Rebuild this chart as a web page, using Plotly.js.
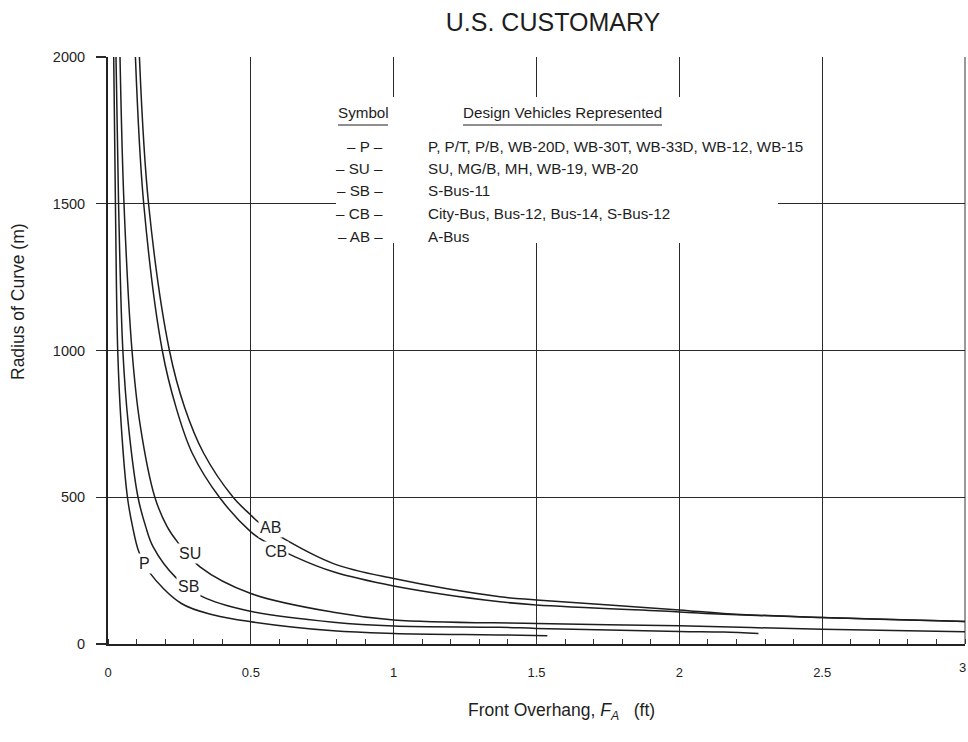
<!DOCTYPE html>
<html>
<head>
<meta charset="utf-8">
<script src="https://cdn.plot.ly/plotly-3.0.1.min.js"></script>
<style>html,body{margin:0;padding:0;background:#fff;}#chart{width:968px;height:742px;}</style>
</head>
<body>
<div id="chart"></div>
<script>
// ---------------- data ----------------
const curveNames = ['P', 'SB', 'SU', 'CB', 'AB'];

const P_F = [0.020, 0.026, 0.034, 0.046, 0.068, 0.086, 0.108, 0.145, 0.257, 0.370, 0.500, 0.789, 1.0, 1.372, 1.538];
const P_R = [2000, 1500, 1000, 750, 500, 400, 314, 244, 138, 99, 76, 45, 36, 31, 28];

const SB_F = [0.028, 0.037, 0.052, 0.071, 0.105, 0.132, 0.158, 0.237, 0.327, 0.490, 0.789, 1.0, 1.372, 1.5, 2.0, 2.155, 2.277];
const SB_R = [2000, 1500, 1000, 750, 500, 400, 331, 227, 163, 113, 74, 61, 57, 53, 43, 41, 36];

const SU_F = [0.042, 0.056, 0.084, 0.112, 0.164, 0.207, 0.243, 0.322, 0.500, 0.789, 1.0, 1.5, 2.0, 2.5, 3.0];
const SU_R = [2000, 1500, 1000, 750, 500, 400, 348, 263, 172, 108, 82, 70, 62, 50, 42];

const CB_F = [0.096, 0.125, 0.190, 0.238, 0.295, 0.390, 0.500, 0.541, 0.655, 0.789, 1.0, 1.372, 1.5, 2.0, 2.155, 2.5, 3.0];
const CB_R = [2000, 1500, 1000, 807, 650, 500, 382, 354, 297, 246, 198, 144, 133, 109, 101, 90, 77];

const AB_F = [0.110, 0.142, 0.215, 0.268, 0.335, 0.438, 0.497, 0.526, 0.608, 0.789, 1.0, 1.372, 1.5, 2.0, 2.155, 2.5, 3.0];
const AB_R = [2000, 1500, 1000, 807, 650, 500, 442, 416, 363, 274, 223, 161, 150, 116, 104, 90, 77];

const xTickVals = [0, 0.5, 1, 1.5, 2, 2.5, 3];
const xTickText = ['0', '0.5', '1', '1.5', '2', '2.5', '3'];
const yTickVals = [0, 500, 1000, 1500, 2000];
const yTickText = ['0', '500', '1000', '1500', '2000'];

const chartTitle = 'U.S. CUSTOMARY';
const xTitle = 'Front Overhang, <i>F<sub>A</sub></i>\u00a0\u00a0\u00a0(ft)';
const yTitle = 'Radius of Curve (m)';

const legendHeadSymbol = 'Symbol';
const legendHeadVehicles = 'Design Vehicles Represented';
const legendSymbols = ['\u2013 P \u2013', '\u2013 SU \u2013', '\u2013 SB \u2013', '\u2013 CB \u2013', '\u2013 AB \u2013'];
const legendVehicles = [
  'P, P/T, P/B, WB-20D, WB-30T, WB-33D, WB-12, WB-15',
  'SU, MG/B, MH, WB-19, WB-20',
  'S-Bus-11',
  'City-Bus, Bus-12, Bus-14, S-Bus-12',
  'A-Bus'
];

// ---------------- layout helpers (pixel -> paper) ----------------
const L = 108, R = 965, T = 57, B = 644;
const px = v => (v - L) / (R - L);
const py = v => (B - v) / (B - T);
const FONT = 'Liberation Sans, Arial, Helvetica, sans-serif';
const INK = '#1e1e1e';

const series = [[P_F, P_R], [SB_F, SB_R], [SU_F, SU_R], [CB_F, CB_R], [AB_F, AB_R]];
const traces = series.map((s, i) => ({
  type: 'scatter', mode: 'lines', name: curveNames[i],
  x: s[0], y: s[1],
  line: {color: INK, width: 1.5, shape: 'spline', smoothing: 1},
  hoverinfo: 'skip'
}));

const annotations = [];
const txt = (text, x, y, opts) => annotations.push(Object.assign({
  text: text, xref: 'paper', yref: 'paper', x: px(x), y: py(y),
  showarrow: false, font: {family: FONT, size: 15, color: INK},
  xanchor: 'center', yanchor: 'middle'
}, opts || {}));

// curve labels (white background cuts the curves as in the reference)
const labelPos = {P: [144, 563], SB: [188.5, 586.5], SU: [190, 553.5], CB: [276, 551.5], AB: [270.5, 527]};
curveNames.forEach(n => txt(n, labelPos[n][0], labelPos[n][1], {bgcolor: '#ffffff', borderpad: 1,
  font: {family: FONT, size: 16, color: INK}}));

// legend table
const LF = {family: FONT, size: 15.2, color: INK};
txt(legendHeadSymbol, 363, 113, {font: LF});
txt(legendHeadVehicles, 562.5, 113, {font: LF});
const rowY = [146, 168.5, 191, 213.5, 236.5];
legendSymbols.forEach((s, i) => txt(s, 385, rowY[i], {xanchor: 'right', font: LF}));
legendVehicles.forEach((s, i) => txt(s, 426, rowY[i], {xanchor: 'left', font: LF}));

// axis titles
txt(xTitle, 561, 711, {font: {family: FONT, size: 17.5, color: INK}});
txt(yTitle, 18, 302, {textangle: -90, font: {family: FONT, size: 17.5, color: INK}});

// last x tick label sits at the very right edge of the figure; Plotly hides it, so draw it as text
const lastTick = xTickVals.length - 1;
txt(xTickText[lastTick], 967, 667, {xanchor: 'right', borderpad: 0, font: {family: FONT, size: 13, color: INK}});

const shapes = [
  {type: 'rect', xref: 'paper', yref: 'paper', x0: px(336), x1: px(778), y0: py(97), y1: py(243),
   fillcolor: '#ffffff', line: {width: 0}, layer: 'above'},
  {type: 'line', xref: 'paper', yref: 'paper', x0: px(338), x1: px(388), y0: py(125), y1: py(125),
   line: {color: INK, width: 1}, layer: 'above'},
  {type: 'line', xref: 'paper', yref: 'paper', x0: px(463), x1: px(662), y0: py(125), y1: py(125),
   line: {color: INK, width: 1}, layer: 'above'},
  // right frame line at x = 3
  {type: 'line', xref: 'paper', yref: 'paper', x0: 1, x1: 1, y0: 0, y1: 1,
   line: {color: '#555', width: 1.2}, layer: 'below'}
];

const layout = {
  width: 968, height: 742,
  margin: {l: L, r: 968 - R, t: T, b: 742 - B, pad: 0},
  paper_bgcolor: '#ffffff', plot_bgcolor: '#ffffff',
  showlegend: false,
  font: {family: FONT, color: INK},
  title: {text: chartTitle, xref: 'container', yref: 'container', x: 553 / 968, y: 1 - 22 / 742,
          xanchor: 'center', yanchor: 'middle', font: {family: FONT, size: 25, color: INK}},
  xaxis: {
    range: [0, 3], tickmode: 'array', tickvals: xTickVals.slice(0, lastTick), ticktext: xTickText.slice(0, lastTick),
    showgrid: true, gridcolor: '#2a2a2a', gridwidth: 1.2, zeroline: false,
    showline: true, linecolor: '#222', linewidth: 2, mirror: false,
    ticks: '', ticklabelstandoff: 15,
    tickfont: {family: FONT, size: 13, color: INK},
    minor: {dtick: 0.1, tick0: 0, ticks: 'inside', ticklen: 5, tickwidth: 1, tickcolor: '#333', showgrid: false}
  },
  yaxis: {
    range: [0, 2000], tickmode: 'array', tickvals: yTickVals, ticktext: yTickText,
    showgrid: true, gridcolor: '#2a2a2a', gridwidth: 1.2, zeroline: false,
    showline: true, linecolor: '#222', linewidth: 2,
    ticks: 'outside', ticklen: 10, tickwidth: 1.2, tickcolor: '#2a2a2a', ticklabelstandoff: 8,
    tickfont: {family: FONT, size: 14.5, color: INK}
  },
  annotations: annotations,
  shapes: shapes
};

Plotly.newPlot('chart', traces, layout, {displayModeBar: false, staticPlot: true});
</script>
</body>
</html>
